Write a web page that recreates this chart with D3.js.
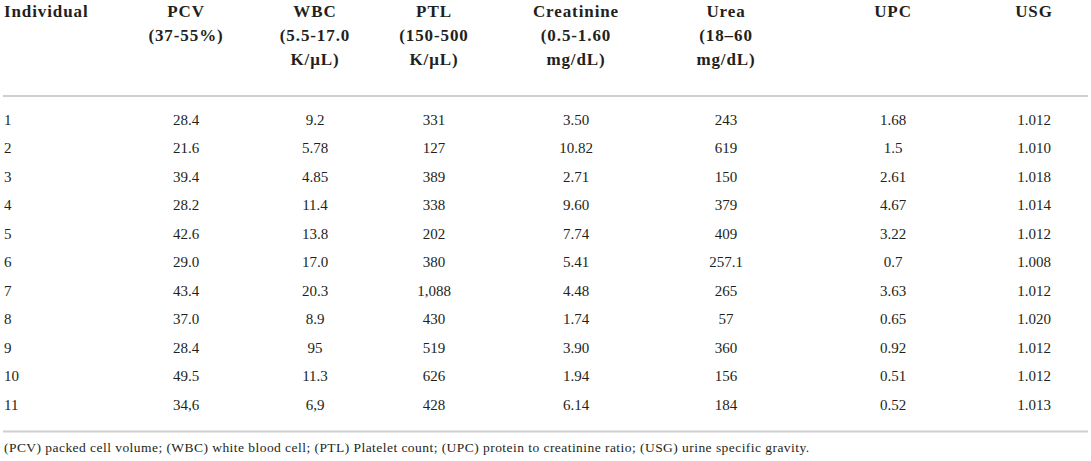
<!DOCTYPE html>
<html>
<head>
<meta charset="utf-8">
<script src="https://cdn.jsdelivr.net/npm/d3@7"></script>
<style>
  html, body { margin: 0; padding: 0; background: #fff; }
  svg { display: block; }
  .hdr { font-family: "Liberation Serif", "DejaVu Serif", serif; font-weight: bold; font-size: 17px; letter-spacing: 0.9px; fill: #231f20; }
  .cell { font-family: "Liberation Serif", "DejaVu Serif", serif; font-size: 15px; fill: #231f20; }
  .note { font-family: "Liberation Serif", "DejaVu Serif", serif; font-size: 13.5px; letter-spacing: 0.45px; fill: #231f20; }
  .rule { stroke: #cfcfcf; stroke-width: 2; }
</style>
</head>
<body>
<div id="table"></div>
<script>
// column headers, one array of lines per column
const headers = [
  ["Individual"],
  ["PCV", "(37-55%)"],
  ["WBC", "(5.5-17.0", "K/\u03bcL)"],
  ["PTL", "(150-500", "K/\u03bcL)"],
  ["Creatinine", "(0.5-1.60", "mg/dL)"],
  ["Urea", "(18\u201360", "mg/dL)"],
  ["UPC"],
  ["USG"],
];

const individuals = ["1", "2", "3", "4", "5", "6", "7", "8", "9", "10", "11"];
const pcv = ["28.4", "21.6", "39.4", "28.2", "42.6", "29.0", "43.4", "37.0", "28.4", "49.5", "34,6"];
const wbc = ["9.2", "5.78", "4.85", "11.4", "13.8", "17.0", "20.3", "8.9", "95", "11.3", "6,9"];
const ptl = ["331", "127", "389", "338", "202", "380", "1,088", "430", "519", "626", "428"];
const creatinine = ["3.50", "10.82", "2.71", "9.60", "7.74", "5.41", "4.48", "1.74", "3.90", "1.94", "6.14"];
const urea = ["243", "619", "150", "379", "409", "257.1", "265", "57", "360", "156", "184"];
const upc = ["1.68", "1.5", "2.61", "4.67", "3.22", "0.7", "3.63", "0.65", "0.92", "0.51", "0.52"];
const usg = ["1.012", "1.010", "1.018", "1.014", "1.012", "1.008", "1.012", "1.020", "1.012", "1.012", "1.013"];

const footnote = "(PCV) packed cell volume; (WBC) white blood cell; (PTL) Platelet count; (UPC) protein to creatinine ratio; (USG) urine specific gravity.";

const width = 1091;
const height = 461;

// layout: column centres (first column is left aligned)
const colKeys = d3.range(headers.length);
const colX = d3.scaleOrdinal()
  .domain(colKeys)
  .range([4, 186, 315, 434, 576, 726, 893, 1034]);

const rowY = d3.scalePoint()
  .domain(individuals)
  .range([125, 409.5]);

const headerLineY = d3.scaleLinear().domain([0, 2]).range([17, 65]);

const columns = [individuals, pcv, wbc, ptl, creatinine, urea, upc, usg];
const rows = individuals.map((d, i) => columns.map((c) => c[i]));

const svg = d3.select("#table")
  .append("svg")
  .attr("width", width)
  .attr("height", height)
  .attr("viewBox", [0, 0, width, height]);

// header
const head = svg.append("g")
  .selectAll("text")
  .data(headers)
  .join("text")
  .attr("class", "hdr")
  .attr("text-anchor", (d, i) => (i === 0 ? "start" : "middle"));
head.selectAll("tspan")
  .data((d, i) => d.map((line) => ({ line, i })))
  .join("tspan")
  .attr("x", (d) => colX(d.i))
  .attr("y", (d, j) => headerLineY(j))
  .text((d) => d.line);

// rules
svg.append("g")
  .selectAll("line")
  .data([96, 431.5])
  .join("line")
  .attr("class", "rule")
  .attr("x1", 3)
  .attr("x2", 1088)
  .attr("y1", (d) => d)
  .attr("y2", (d) => d);

// body
const row = svg.append("g")
  .selectAll("g")
  .data(rows)
  .join("g")
  .attr("transform", (d) => `translate(0,${rowY(d[0])})`);
row.selectAll("text")
  .data((d) => d)
  .join("text")
  .attr("class", "cell")
  .attr("x", (d, i) => colX(i))
  .attr("text-anchor", (d, i) => (i === 0 ? "start" : "middle"))
  .text((d) => d);

// footnote
svg.append("text")
  .attr("class", "note")
  .attr("x", 4)
  .attr("y", 452)
  .text(footnote);
</script>
</body>
</html>
